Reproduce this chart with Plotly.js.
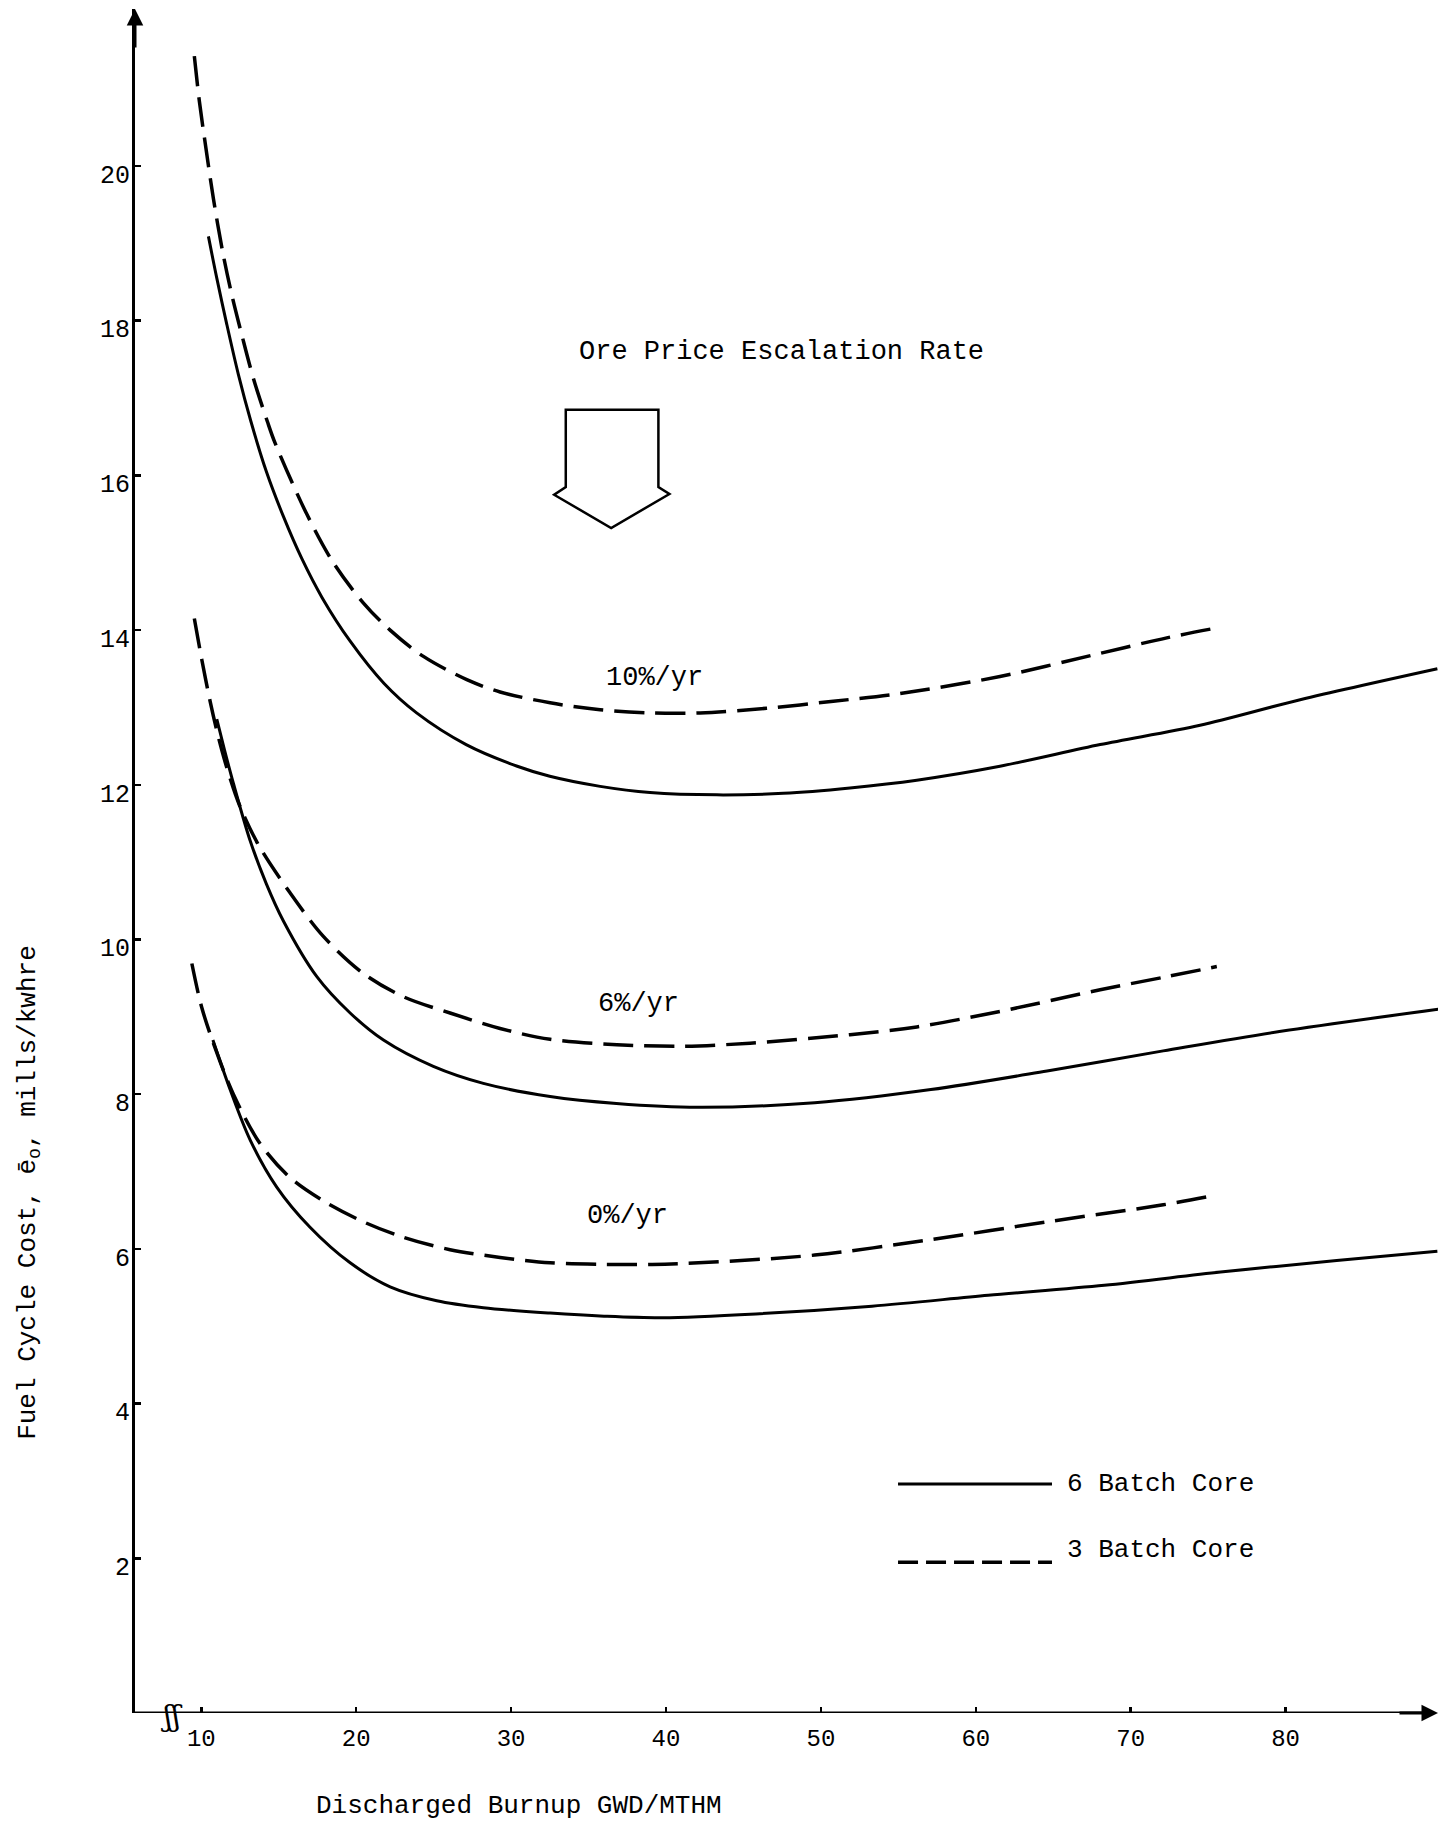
<!DOCTYPE html>
<html>
<head>
<meta charset="utf-8">
<script src="https://cdn.plot.ly/plotly-3.0.1.min.js"></script>
<style>
  html, body { margin: 0; padding: 0; background: #fff; }
  #chart { width: 1456px; height: 1824px; }
</style>
</head>
<body>
<div id="chart"></div>
<script>
// ---- Data (Discharged burnup GWD/MTHM vs fuel cycle cost mills/kwhre)
const xTicks = [10, 20, 30, 40, 50, 60, 70, 80];
const yTicks = [2, 4, 6, 8, 10, 12, 14, 16, 18, 20];

const rateLabels = ["10%/yr", "6%/yr", "0%/yr"];
const seriesNames = ["6 Batch Core", "3 Batch Core"];

// 6 Batch Core, 10%/yr (solid)
const burnup6_10 = [10.46, 11.0, 11.65, 12.4, 13.2, 14.2, 15.3, 16.5, 17.8, 19.6, 21.8, 23.9, 27.1, 30.4, 32.5, 35.75, 38.97, 43.28, 47.58, 51.88, 56.19, 61.56, 68.03, 74.48, 80.94, 89.8];
const cost6_10   = [19.09, 18.55, 17.95, 17.30, 16.70, 16.05, 15.47, 14.92, 14.42, 13.86, 13.31, 12.93, 12.52, 12.24, 12.11, 11.98, 11.90, 11.87, 11.89, 11.96, 12.06, 12.24, 12.52, 12.77, 13.10, 13.50];

// 3 Batch Core, 10%/yr (dashed)
const burnup3_10 = [9.55, 9.88, 10.30, 10.78, 11.38, 11.94, 12.65, 13.37, 14.26, 14.76, 16.81, 18.53, 20.47, 22.19, 24.34, 27.14, 29.29, 32.52, 35.75, 38.97, 42.2, 46.5, 50.8, 55.1, 61.56, 68.03, 72.33, 75.34];
const cost3_10   = [21.42, 20.83, 20.23, 19.58, 18.89, 18.36, 17.79, 17.25, 16.70, 16.42, 15.50, 14.87, 14.35, 14.00, 13.66, 13.36, 13.20, 13.06, 12.97, 12.93, 12.93, 12.99, 13.08, 13.18, 13.40, 13.70, 13.90, 14.02];

// 6 Batch Core, 6%/yr (solid)
const burnup6_6 = [11.0, 11.5, 12.07, 13.15, 14.2, 15.3, 17.46, 19.61, 21.76, 24.98, 28.21, 32.52, 36.8, 42.06, 49.6, 57.1, 64.6, 72.1, 79.6, 89.95];
const cost6_6   = [12.85, 12.45, 12.02, 11.28, 10.72, 10.24, 9.52, 9.05, 8.70, 8.36, 8.14, 7.97, 7.88, 7.83, 7.89, 8.06, 8.30, 8.56, 8.81, 9.10];

// 3 Batch Core, 6%/yr (dashed)
const burnup3_6 = [9.55, 10.03, 10.57, 11.1, 11.65, 12.5, 13.7, 15.74, 17.88, 20.47, 23.05, 26.06, 29.29, 32.52, 36.83, 41.13, 45.43, 51.88, 56.19, 61.56, 68.03, 72.33, 75.56];
const cost3_6   = [14.15, 13.62, 13.08, 12.62, 12.22, 11.72, 11.22, 10.60, 10.04, 9.56, 9.26, 9.05, 8.85, 8.71, 8.64, 8.62, 8.66, 8.77, 8.87, 9.07, 9.35, 9.52, 9.65];

// 6 Batch Core, 0%/yr (solid)
const burnup6_0 = [10.75, 11.86, 13.15, 14.87, 17.02, 19.61, 22.19, 25.20, 28.21, 32.52, 36.0, 39.8, 45.8, 53.3, 60.8, 68.3, 75.8, 83.3, 89.8];
const cost6_0   = [8.70, 8.06, 7.41, 6.80, 6.28, 5.82, 5.51, 5.33, 5.24, 5.17, 5.13, 5.11, 5.16, 5.26, 5.40, 5.53, 5.70, 5.85, 5.97];

// 3 Batch Core, 0%/yr (dashed)
const burnup3_0 = [9.39, 10.03, 10.89, 12.07, 13.80, 15.74, 17.88, 20.47, 23.05, 26.06, 29.29, 32.52, 36.0, 39.1, 42.1, 49.6, 57.1, 64.6, 72.1, 75.1];
const cost3_0   = [9.69, 9.12, 8.60, 8.00, 7.36, 6.92, 6.62, 6.35, 6.15, 5.99, 5.89, 5.82, 5.80, 5.80, 5.82, 5.92, 6.12, 6.35, 6.57, 6.68];

// ---- Styling
const MONO = "Liberation Mono, Cousine, DejaVu Sans Mono, monospace";
const solidLine  = {color: "#000", width: 3, shape: "spline", smoothing: 0.9};
const dashedLine = {color: "#000", width: 3.5, shape: "spline", smoothing: 0.9, dash: "30px,11px"};

function trace(x, y, line, name) {
  return {x: x, y: y, type: "scatter", mode: "lines", line: line, name: name,
          showlegend: false, hoverinfo: "skip"};
}

const data = [
  trace(burnup6_10, cost6_10, solidLine, seriesNames[0]),
  trace(burnup3_10, cost3_10, dashedLine, seriesNames[1]),
  trace(burnup6_6,  cost6_6,  solidLine, seriesNames[0]),
  trace(burnup3_6,  cost3_6,  dashedLine, seriesNames[1]),
  trace(burnup6_0,  cost6_0,  solidLine, seriesNames[0]),
  trace(burnup3_0,  cost3_0,  dashedLine, seriesNames[1])
];

const XMIN = 5.72, XMAX = 89.84, YMAX = 22.03;

const layout = {
  width: 1456, height: 1824,
  margin: {l: 135, r: 18, t: 9, b: 111},
  paper_bgcolor: "#fff", plot_bgcolor: "#fff",
  showlegend: false,
  font: {family: MONO, color: "#000", size: 24},
  xaxis: {
    range: [XMIN, XMAX], showgrid: false, zeroline: false,
    showline: false,
    tickmode: "array", tickvals: xTicks, ticktext: xTicks.map(String),
    ticks: "inside", ticklen: 6, tickwidth: 2.5, tickcolor: "#000",
    tickfont: {family: MONO, size: 24, color: "#000"},
    ticklabelstandoff: 8
  },
  yaxis: {
    range: [0, YMAX], showgrid: false, zeroline: false,
    showline: true, linecolor: "#000", linewidth: 3,
    tickmode: "array", tickvals: yTicks, ticktext: yTicks.map(String),
    ticks: "inside", ticklen: 6, tickwidth: 2.5, tickcolor: "#000",
    tickfont: {family: MONO, size: 25, color: "#000"},
    ticklabelshift: 8,
    ticklabelstandoff: -3
  },
  shapes: [
    // x axis line (ends at arrow)
    {type: "line", xref: "x", yref: "y", x0: XMIN, x1: XMAX - 0.3, y0: 0, y1: 0,
     line: {color: "#000", width: 3}},
    // escalation arrow outline
    {type: "path", xref: "x", yref: "y",
     path: "M33.53,16.85 L39.51,16.85 L39.51,15.85 L40.22,15.76 L36.46,15.32 L32.78,15.75 L33.53,15.85 Z",
     line: {color: "#000", width: 2.5}, fillcolor: "rgba(0,0,0,0)"},
    // legend samples
    {type: "line", xref: "x", yref: "y", x0: 54.98, x1: 64.92, y0: 2.96, y1: 2.96,
     line: {color: "#000", width: 3}},
    {type: "line", xref: "x", yref: "y", x0: 54.98, x1: 64.92, y0: 1.95, y1: 1.95,
     line: {color: "#000", width: 3.5, dash: "20px,8px"}}
  ],
  annotations: [
    // axis arrowheads
    {x: XMIN, y: YMAX, xref: "x", yref: "y", ax: 0, ay: 40, text: "", showarrow: true,
     arrowhead: 2, arrowsize: 1.1, arrowwidth: 3, arrowcolor: "#000"},
    {x: XMAX, y: 0, xref: "x", yref: "y", ax: -40, ay: 0, text: "", showarrow: true,
     arrowhead: 2, arrowsize: 1.1, arrowwidth: 3, arrowcolor: "#000"},
    // axis break
    {x: 8.05, y: 0, xref: "x", yref: "y", text: "ʃʃ", showarrow: false,
     font: {family: "DejaVu Serif, serif", size: 30, color: "#000"}, yshift: -2},
    // titles
    {xref: "paper", yref: "paper", x: -0.0814, y: 0.3058, textangle: -90,
     text: "Fuel Cycle Cost, ē<sub>o</sub>, mills/kwhre", showarrow: false,
     font: {family: MONO, size: 26, color: "#000"}, xanchor: "center", yanchor: "middle"},
    {xref: "paper", yref: "paper", x: 0.2945, y: -0.0546,
     text: "Discharged Burnup GWD/MTHM", showarrow: false,
     font: {family: MONO, size: 26, color: "#000"}, xanchor: "center", yanchor: "middle"},
    {xref: "x", yref: "y", x: 47.46, y: 17.59, text: "Ore Price Escalation Rate", showarrow: false,
     font: {family: MONO, size: 27, color: "#000"}},
    // rate labels
    {xref: "x", yref: "y", x: 39.23, y: 13.38, text: rateLabels[0], showarrow: false,
     font: {family: MONO, size: 27, color: "#000"}},
    {xref: "x", yref: "y", x: 38.23, y: 9.17, text: rateLabels[1], showarrow: false,
     font: {family: MONO, size: 27, color: "#000"}},
    {xref: "x", yref: "y", x: 37.49, y: 6.42, text: rateLabels[2], showarrow: false,
     font: {family: MONO, size: 27, color: "#000"}},
    // legend text
    {xref: "x", yref: "y", x: 65.76, y: 2.96, text: seriesNames[0], showarrow: false,
     xanchor: "left", font: {family: MONO, size: 26, color: "#000"}},
    {xref: "x", yref: "y", x: 65.76, y: 2.11, text: seriesNames[1], showarrow: false,
     xanchor: "left", font: {family: MONO, size: 26, color: "#000"}}
  ]
};

Plotly.newPlot("chart", data, layout, {staticPlot: true, displayModeBar: false});
</script>
</body>
</html>
